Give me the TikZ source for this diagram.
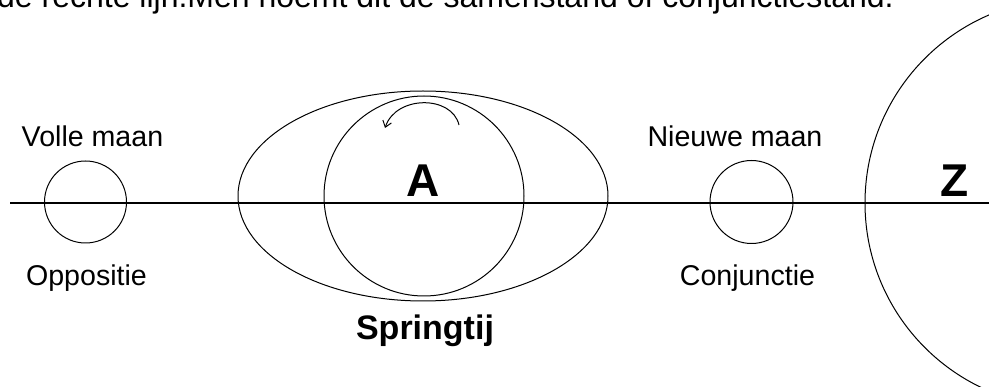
\documentclass[tikz,border=0pt]{standalone}
\usepackage{fontspec}
\setmainfont{Liberation Sans}
\usetikzlibrary{shapes.geometric,arrows.meta}
\begin{document}
\begin{tikzpicture}[x=1pt,y=-1pt,
  body/.style={draw,circle,line width=1pt,inner sep=0pt},
  lbl/.style={anchor=base,inner sep=0pt,font=\fontsize{28.6}{32}\selectfont},
  big/.style={anchor=base,inner sep=0pt,font=\fontsize{46}{50}\selectfont\bfseries},
  axis/.style={line width=1.3pt}]
\useasboundingbox (0,0) rectangle (989,387);
\clip (0,0) rectangle (989,387);
% top text (cut off at the top edge, as in the reference)
\node[anchor=base west,inner sep=0pt,font=\fontsize{32}{36}\selectfont] (top) at (-3,7.3) {de rechte lijn.Men noemt dit de samenstand of conjunctiestand.};
% axis
\coordinate (lstart) at (10,203);
\coordinate (lend) at (989,203);
\draw[axis] (lstart) -- (lend);
% bodies
\node[body,minimum size=82pt] (vol) at (85.5,202) {};
\node[body,minimum size=83pt] (nieuw) at (751.5,202) {};
\node[draw,ellipse,line width=1pt,inner sep=0pt,minimum width=370pt,minimum height=210pt] (tij) at (423,196) {};
\node[body,minimum size=200pt] (aarde) at (424,196) {};
\node[body,minimum size=409pt] (zon) at (1069.5,203) {};
% arrow
\coordinate (as) at (459,125);
\coordinate (ae) at (385,128);
\draw[line width=1pt,-{Straight Barb[length=6pt,width=9pt]}] (as) .. controls (452,95) and (396,95) .. (ae);
% labels
\node[lbl] (tvol) at (92.5,146.7) {Volle maan};
\node[lbl] (topp) at (86.5,286) {Oppositie};
\node[lbl] (tnieuw) at (735,146.7) {Nieuwe maan};
\node[lbl] (tconj) at (747.5,286) {Conjunctie};
\node[big] (ta) at (423,197) {A};
\node[big] (tz) at (955,197) {Z};
\node[anchor=base,inner sep=0pt,font=\fontsize{34}{38}\selectfont\bfseries] (tspring) at (425,340) {Springtij};
\end{tikzpicture}
\end{document}
